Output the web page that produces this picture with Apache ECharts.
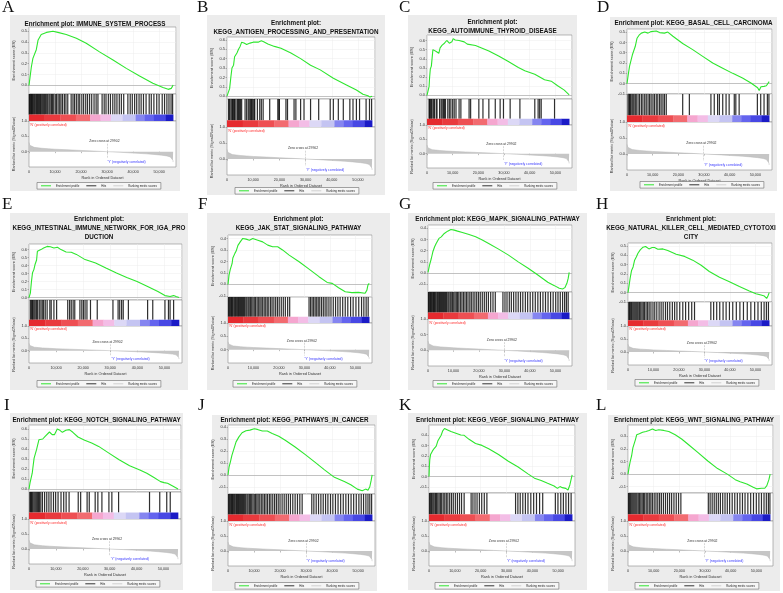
<!DOCTYPE html>
<html><head><meta charset="utf-8">
<script src="https://cdn.jsdelivr.net/npm/echarts@6/dist/echarts.min.js"></script>
<style>html,body{margin:0;padding:0;background:#fff}#c{width:783px;height:593px}</style>
</head><body><div id="c"></div><script>
// ---------------- DATA ----------------
const panelLetters = ['A','B','C','D','E','F','G','H','I','J','K','L'];
const panelTitles = [
  'Enrichment plot: IMMUNE_SYSTEM_PROCESS',
  'Enrichment plot:\nKEGG_ANTIGEN_PROCESSING_AND_PRESENTATION',
  'Enrichment plot:\nKEGG_AUTOIMMUNE_THYROID_DISEASE',
  'Enrichment plot: KEGG_BASAL_CELL_CARCINOMA',
  'Enrichment plot:\nKEGG_INTESTINAL_IMMUNE_NETWORK_FOR_IGA_PRO\nDUCTION',
  'Enrichment plot:\nKEGG_JAK_STAT_SIGNALING_PATHWAY',
  'Enrichment plot: KEGG_MAPK_SIGNALING_PATHWAY',
  'Enrichment plot:\nKEGG_NATURAL_KILLER_CELL_MEDIATED_CYTOTOXI\nCITY',
  'Enrichment plot: KEGG_NOTCH_SIGNALING_PATHWAY',
  'Enrichment plot: KEGG_PATHWAYS_IN_CANCER',
  'Enrichment plot: KEGG_VEGF_SIGNALING_PATHWAY',
  'Enrichment plot: KEGG_WNT_SIGNALING_PATHWAY'
];
// running enrichment score: [rank (thousands), ES]
const esA = [[0,0],[0.9,0.17],[1.5,0.25],[2.8,0.33],[3.5,0.42],[4.7,0.47],[6.7,0.49],[9.2,0.5],[11.1,0.49],[14.3,0.47],[18.2,0.435],[22,0.39],[27.1,0.31],[32.3,0.235],[37.4,0.157],[42.5,0.086],[47.6,0.019],[51.5,-0.019],[53.5,-0.037],[54.7,-0.028],[55.4,0.003]];
const esB = [[0,0],[0.6,0.01],[1.0,0.08],[1.5,0.21],[1.9,0.3],[2.5,0.33],[2.9,0.42],[3.8,0.46],[4.4,0.5],[5.0,0.53],[5.6,0.575],[6.5,0.565],[7.5,0.55],[8.8,0.565],[10,0.575],[10.6,0.59],[11.9,0.575],[13.1,0.59],[14,0.58],[15.6,0.555],[18.1,0.53],[20.6,0.51],[24.4,0.46],[28.1,0.4],[31.9,0.33],[35.6,0.28],[40.6,0.19],[45.6,0.12],[49.4,0.065],[51.9,0.02],[53.8,0.005],[54.6,-0.01],[55.0,0.005],[55.4,0.0]];
const esC = [[0,0],[0.5,0.01],[0.8,0.095],[1.0,0.19],[1.3,0.29],[1.7,0.32],[2.0,0.34],[2.3,0.5],[3.6,0.48],[4.6,0.46],[5.1,0.52],[5.9,0.55],[6.8,0.57],[7.7,0.6],[8.7,0.57],[9.7,0.585],[10.2,0.62],[11,0.605],[12.5,0.6],[14.5,0.585],[15.7,0.56],[16.4,0.58],[18.9,0.545],[21.5,0.515],[24.1,0.485],[27.9,0.43],[31.7,0.37],[35.6,0.305],[38.1,0.27],[42,0.23],[45.8,0.17],[48.4,0.155],[50.9,0.105],[53.5,0.057],[55.4,0.004]];
const esD = [[0,0],[0.5,0.09],[1.0,0.17],[1.7,0.18],[2.1,0.28],[2.7,0.27],[3.2,0.36],[3.9,0.44],[4.7,0.47],[5.6,0.49],[6.9,0.5],[8.2,0.49],[9.4,0.505],[11.4,0.51],[12.7,0.495],[14.6,0.49],[15.9,0.5],[17.9,0.46],[21.7,0.39],[25.6,0.33],[29.5,0.265],[33.4,0.2],[37.3,0.15],[41.2,0.1],[45,0.055],[48.3,0.006],[50.9,-0.04],[51.5,-0.065],[52.2,-0.03],[53.4,-0.026],[54.3,-0.02],[55,-0.01],[55.4,0.02]];
const esE = [[0,0],[0.5,0.055],[0.9,0.2],[1.3,0.31],[1.8,0.35],[2.2,0.41],[2.8,0.47],[3.1,0.58],[3.8,0.57],[4.4,0.6],[5.4,0.62],[6.7,0.64],[7.9,0.635],[9.2,0.62],[10.5,0.63],[11.8,0.6],[13.7,0.57],[15.6,0.567],[17.5,0.54],[20.7,0.475],[24.6,0.433],[28.4,0.37],[32.3,0.307],[36.1,0.252],[39.9,0.2],[43.8,0.139],[47.6,0.076],[50.2,0.025],[52.1,0.013],[53.4,0.025],[54.3,0.013],[55.4,0.0]];
const esF = [[0,0],[0.4,0.08],[0.9,0.13],[1.6,0.18],[1.9,0.23],[2.7,0.27],[3.2,0.29],[3.9,0.34],[4.8,0.37],[5.8,0.4],[7.1,0.394],[8.4,0.385],[9.7,0.4],[11.7,0.385],[13.6,0.37],[15.6,0.342],[17.5,0.328],[19.5,0.328],[21.4,0.3],[24,0.255],[27.9,0.197],[31.8,0.133],[35.7,0.067],[38.9,0.017],[40.9,0.009],[43.4,-0.029],[46,-0.064],[48.6,-0.072],[51.2,-0.07],[53.8,-0.078],[54.5,-0.05],[54.9,-0.006],[55.4,0.009]];
const esG = [[0,0.006],[0.6,0.07],[1.3,0.13],[1.9,0.19],[2.6,0.235],[3.2,0.265],[4.3,0.31],[5.2,0.324],[6.4,0.354],[7.7,0.375],[9,0.39],[10.3,0.384],[11.6,0.375],[13.5,0.363],[16.1,0.345],[18.7,0.324],[21.3,0.295],[23.8,0.265],[27.7,0.214],[31.6,0.16],[35.4,0.1],[39.3,0.042],[43.1,-0.018],[47,-0.083],[49.6,-0.113],[51.5,-0.137],[52.8,-0.143],[53.7,-0.131],[54.5,-0.092],[55,-0.048],[55.4,0.006]];
const esH = [[0,0],[0.4,0.073],[0.9,0.164],[1.4,0.237],[2,0.274],[2.6,0.347],[3.3,0.383],[3.9,0.42],[4.8,0.456],[5.9,0.485],[6.9,0.493],[8.2,0.467],[9.5,0.482],[10.4,0.482],[11.7,0.464],[13.7,0.467],[15.6,0.449],[18.9,0.409],[22.2,0.387],[25.4,0.347],[28.7,0.292],[31.9,0.226],[35.9,0.164],[39.8,0.117],[43.7,0.066],[47.6,0.018],[50.2,-0.011],[52.2,-0.026],[53.5,-0.036],[54.4,-0.062],[54.9,-0.036],[55.4,0]];
const esI = [[0,0],[0.4,0.064],[0.8,0.074],[1.2,0.158],[1.5,0.225],[1.9,0.309],[2.3,0.326],[2.8,0.393],[3.2,0.376],[3.7,0.493],[4.4,0.477],[5.1,0.5],[6,0.527],[6.7,0.527],[7.6,0.57],[8.6,0.544],[9.5,0.544],[10.5,0.6],[11.5,0.587],[12.4,0.567],[13.7,0.587],[15,0.594],[16.3,0.567],[18.2,0.52],[20.7,0.487],[23.3,0.46],[25.9,0.426],[29.7,0.359],[33.5,0.292],[37.4,0.232],[41.2,0.191],[43.8,0.158],[46.3,0.117],[48.9,0.074],[50.2,0.064],[51.5,0.057],[53.4,0.03],[55.4,0]];
const esJ = [[0,0],[0.4,0.065],[0.9,0.108],[1.5,0.165],[2.3,0.221],[3.1,0.278],[4.2,0.32],[5.4,0.355],[6.9,0.372],[8.4,0.377],[10.1,0.389],[11.3,0.383],[13.2,0.369],[15.1,0.369],[17,0.349],[19.5,0.326],[22,0.292],[25.8,0.235],[29.6,0.173],[33.4,0.108],[37.1,0.043],[40.9,-0.02],[44.7,-0.054],[47.2,-0.082],[49.7,-0.119],[51.6,-0.133],[52.9,-0.119],[53.8,-0.128],[54.5,-0.099],[55,-0.048],[55.4,0]];
const esK = [[0,0],[0.15,0.1],[0.3,0.164],[0.6,0.213],[1.3,0.246],[1.9,0.269],[2.8,0.295],[3.4,0.344],[4.1,0.361],[4.7,0.4],[5.3,0.443],[6,0.466],[7.2,0.452],[8.5,0.436],[10.4,0.42],[12.3,0.403],[13.6,0.4],[15.5,0.361],[18,0.321],[20.5,0.302],[23.1,0.269],[26.9,0.213],[30.7,0.148],[34.5,0.092],[38.3,0.026],[40.8,-0.016],[43.4,-0.039],[45.9,-0.066],[48.4,-0.092],[49.7,-0.115],[50.7,-0.098],[51.6,-0.108],[52.9,-0.115],[53.8,-0.131],[54.5,-0.082],[55.4,0.016]];
const esL = [[0,0],[0.4,0.052],[0.9,0.104],[1.4,0.144],[1.9,0.209],[2.5,0.222],[2.9,0.274],[3.4,0.313],[4.4,0.321],[5.7,0.332],[7,0.339],[8.2,0.347],[9.5,0.358],[10.8,0.347],[12,0.352],[13.9,0.347],[15.9,0.339],[18.4,0.313],[20.9,0.279],[23.5,0.235],[27.3,0.17],[31.1,0.104],[34.9,0.044],[38.7,0],[41.8,-0.044],[43.7,-0.06],[46.3,-0.078],[48.8,-0.104],[50.1,-0.117],[52,-0.112],[53.3,-0.112],[54.1,-0.091],[54.9,-0.044],[55.4,0]];
// gene-set hit positions (rank, thousands)
const hitsA = [0.1,0.3,0.5,0.8,1.0,1.3,1.6,1.9,2.2,2.6,2.9,3.3,3.6,4.0,4.4,4.7,5.1,5.5,5.9,6.3,6.8,7.2,7.7,8.1,8.6,9.0,9.5,10.1,10.6,11.2,11.8,12.3,12.9,13.6,14.2,14.9,16.2,16.9,17.5,18.2,18.9,19.5,20.3,21.0,21.8,22.5,23.3,24.1,25.0,25.8,26.5,28.1,28.9,29.6,30.5,31.3,32.2,33.0,33.8,34.7,35.5,36.4,38.0,38.9,39.7,40.6,41.4,42.3,43.1,44.0,45.0,46.2,47.0,48.0,49.1,50.0,51.2,52.1,53.0,53.8,54.6,55.2];
const hitsB = [0.6,1.0,1.5,1.9,2.1,2.5,2.9,3.1,3.8,4.1,4.4,4.8,5.2,5.6,6.9,7.5,8.1,8.5,9.0,9.4,9.6,10.0,10.4,10.6,11.6,12.5,13.1,13.8,16.3,19.4,19.8,20.0,22.5,23.1,25.6,26.3,28.1,29.4,31.9,35.0,39.4,40.6,42.5,44.4,46.9,48.1,49.4,50.6,53.1,54.4,55.2];
const hitsC = [0.8,1.0,1.3,1.7,2.0,2.6,2.9,3.6,3.9,4.9,5.5,5.9,6.4,6.8,7.2,8.1,8.7,9.3,10.0,10.6,11.3,12.5,13.2,16.4,17.0,20.2,21.8,24.1,26.6,28.5,29.8,32.4,36.2,42.0,43.3,43.9,44.5,49.7];
const hitsD = [0.4,0.8,1.0,1.4,1.9,2.3,2.7,3.2,3.6,4.3,4.9,5.6,6.2,6.9,7.5,8.2,8.8,9.4,10.1,10.7,11.4,12.0,12.7,13.3,14.0,14.6,15.3,21.7,24.3,32.7,34.0,35.3,36.0,37.3,38.6,39.8,41.8,42.4,43.7,50.8,52.1,53.4,54.7,55.3];
const hitsE = [0.5,0.9,1.3,1.5,1.9,2.3,2.8,3.2,3.8,4.4,4.9,5.4,6.0,6.7,7.7,8.2,9.2,10.2,14.3,15.0,15.6,16.3,16.9,18.8,19.5,20.1,20.7,21.4,22.7,25.2,31.0,32.9,33.5,34.2,34.8,36.7,43.8,45.7,50.2,51.5,52.1,53.4];
const hitsF = [0.2,0.5,0.8,1.1,1.4,1.7,2.0,2.4,2.7,3.0,3.4,3.8,4.1,4.5,4.9,5.3,5.7,6.1,6.5,7.0,7.4,7.9,8.3,8.8,9.3,9.8,10.3,10.8,11.4,11.9,12.5,13.0,13.6,14.2,14.8,15.4,16.0,16.7,17.3,18.0,18.7,19.4,20.1,20.9,21.7,22.5,23.4,24.2,31.8,32.4,33.0,33.6,34.2,34.8,35.4,36.0,36.7,37.4,38.1,38.8,39.6,40.4,41.3,42.2,43.1,44.0,45.0,46.0,47.0,48.1,49.1,50.2,51.3,52.4,53.3,54.2,55.0];
const hitsG = [0.2,0.4,0.7,1.0,1.3,1.6,1.9,2.2,2.5,2.8,3.1,3.5,3.8,4.2,4.5,4.9,5.3,5.7,6.1,6.5,6.9,7.3,7.8,8.2,8.7,9.1,9.6,10.1,10.6,11.1,11.6,12.1,12.7,13.3,13.9,14.5,15.1,15.7,16.4,17.0,17.7,18.4,19.1,19.8,20.5,21.3,22.1,22.9,23.7,24.6,25.5,26.4,29.4,30.2,31.0,31.9,32.7,33.6,34.5,35.4,36.3,37.2,38.2,39.1,40.1,41.1,42.1,43.1,44.1,45.1,46.1,47.1,48.1,49.1,50.1,51.0,51.9,52.8,53.6,54.3,55.0];
const hitsH = [0.3,0.6,0.9,1.3,1.6,2.0,2.4,2.8,3.2,3.6,4.0,4.5,5.0,5.5,6.0,6.5,7.1,7.7,8.3,9.0,9.8,10.5,11.3,12.2,13.0,13.8,14.7,15.5,16.4,17.4,18.3,19.2,20.3,21.5,22.6,23.8,25.0,26.1,32.5,33.6,34.8,36.0,37.3,38.5,39.8,41.1,42.5,43.9,45.3,46.8,48.2,49.7,51.0,52.3,53.4,54.3,55.1];
const hitsI = [0.3,0.6,0.9,1.2,1.5,1.9,2.3,2.7,3.1,3.5,3.9,4.4,5.0,5.8,6.6,7.4,8.2,9.1,9.9,10.8,11.9,12.9,13.8,14.9,18.3,19.2,21.6,22.4,24.6,25.6,27.1,29.7,30.8,33.3,44.8,48.6,51.2,52.5];
const hitsJ = [0.2,0.5,0.8,1.1,1.4,1.7,2.0,2.3,2.6,3.0,3.3,3.7,4.0,4.4,4.8,5.2,5.6,6.0,6.4,6.8,7.3,7.7,8.2,8.6,9.1,9.6,10.1,10.6,11.1,11.6,12.2,12.8,13.4,14.0,14.6,15.2,15.9,16.5,17.2,17.9,18.6,19.3,20.0,20.8,21.6,22.4,23.2,24.0,24.9,25.8,26.7,27.6,28.5,32.2,33.0,33.9,34.8,35.7,36.6,37.5,38.4,39.4,40.3,41.3,42.3,43.3,44.3,45.3,46.3,47.3,48.3,49.3,50.3,51.2,52.1,53.0,53.8,54.5,55.2];
const hitsK = [0.2,0.5,0.9,1.2,1.6,2.0,2.5,2.9,3.4,3.9,4.4,4.9,5.5,6.1,6.7,7.3,8.0,8.7,9.4,10.2,11.0,11.8,12.6,13.6,16.3,17.0,17.8,18.6,19.5,20.4,21.4,22.4,33.5,34.4,35.3,36.3,37.3,38.3,39.4,40.5,41.6,42.8,44.0,48.9,49.9,51.0,52.0,53.0,54.0,55.0];
const hitsL = [0.2,0.5,0.8,1.1,1.5,1.9,2.3,2.7,3.1,3.5,4.0,4.5,5.0,5.5,6.0,6.5,7.1,7.7,8.3,8.9,9.5,10.2,10.9,11.6,12.3,13.0,13.8,14.6,15.4,16.2,17.0,17.9,18.8,19.7,20.6,31.3,32.0,32.8,33.6,34.4,35.2,36.0,36.9,37.8,38.7,39.6,40.6,41.6,42.6,43.6,44.6,45.6,46.7,47.8,48.9,50.0,51.0,52.0,53.0,53.9,54.7,55.3];
// ES axis tick labels
const esTicksA = [0.0,0.1,0.2,0.3,0.4,0.5];
const esTicksB = [0.0,0.1,0.2,0.3,0.4,0.5,0.6];
const esTicksC = [0.0,0.1,0.2,0.3,0.4,0.5,0.6];
const esTicksD = [-0.1,0.0,0.1,0.2,0.3,0.4,0.5];
const esTicksE = [0.0,0.1,0.2,0.3,0.4,0.5,0.6];
const esTicksF = [-0.1,0.0,0.1,0.2,0.3,0.4];
const esTicksG = [-0.1,0.0,0.1,0.2,0.3,0.4];
const esTicksH = [-0.1,0.0,0.1,0.2,0.3,0.4,0.5];
const esTicksI = [0.0,0.1,0.2,0.3,0.4,0.5,0.6];
const esTicksJ = [-0.1,0.0,0.1,0.2,0.3,0.4];
const esTicksK = [-0.1,0.0,0.1,0.2,0.3,0.4];
const esTicksL = [-0.1,0.0,0.1,0.2,0.3];
// shared ranked list metric (rank thousands, Signal2Noise)
const rankMetric = [[0,0.3],[0.1,0.25],[0.3,0.21],[0.6,0.18],[1,0.16],[2,0.14],[3.5,0.125],[5,0.11],[7.5,0.095],[10,0.08],[15,0.06],[20,0.04],[25,0.02],[29.9,0],[35,-0.02],[40,-0.045],[45,-0.07],[48,-0.09],[51,-0.115],[53,-0.14],[54.3,-0.17],[55,-0.21],[55.3,-0.28],[55.4,-0.34]];
const rankTicks = [0,10,20,30,40,50];
const metricTicks = [0.0,0.5,1.0];
const gradientSegments = [[0,6],[6,12],[12,18],[18,23.5],[23.5,27.5],[27.5,31.5],[31.5,36],[36,41],[41,44.5],[44.5,48],[48,52.5],[52.5,55.4]];
const zeroCross = 29.902;
const zeroCrossLabel = 'Zero cross at 29902';
const posLabel = "'N' (positively correlated)";
const negLabel = "'Y' (negatively correlated)";
const legendNames = ['Enrichment profile','Hits','Ranking metric scores'];

const esData = [esA,esB,esC,esD,esE,esF,esG,esH,esI,esJ,esK,esL];
const hitsData = [hitsA,hitsB,hitsC,hitsD,hitsE,hitsF,hitsG,hitsH,hitsI,hitsJ,hitsK,hitsL];
const esTicks = [esTicksA,esTicksB,esTicksC,esTicksD,esTicksE,esTicksF,esTicksG,esTicksH,esTicksI,esTicksJ,esTicksK,esTicksL];

// ---------------- LAYOUT / STYLE ----------------
const FONT = "'Liberation Sans', Arial, sans-serif";
const XMAX = 56.5;
const GRAD = 0.24;
const gradColors = ['#e52a2f','#e93a3e','#ee4f53','#f26b70','#f5a6cf','#f3bde6','#dcd8f6','#c4c4f2','#8585f0','#6464ee','#4848e4','#1b1bc6'];
const layout = [
 {box:[10,15,180,191], letter:[2,-1], titleTop:19.5, plot:[29,176,27,94,121,167], es:[-0.08,0.54], legend:[37,182.5]},
 {box:[207,15,385,195], letter:[197,-1], titleTop:18.5, plot:[227,375,37,99,127,175], es:[-0.03,0.63], legend:[235,187.5]},
 {box:[408,15,577,191], letter:[399,-1], titleTop:17.5, plot:[427,572,35,99,125,168], es:[-0.04,0.66], legend:[433,182.5]},
 {box:[610,17,777,191], letter:[597,-1], titleTop:18.5, plot:[627,772,29,94,122,170], es:[-0.1,0.53], legend:[640,181.5]},
 {box:[10,213,188,390], letter:[2,196], titleTop:214.5, plot:[29,182,244,300,326,363], es:[-0.03,0.67], legend:[37,380.5]},
 {box:[207,213,390,390], letter:[198,196], titleTop:214.5, plot:[228,372,235,297,323,363], es:[-0.11,0.43], legend:[233,380.5]},
 {box:[408,213,587,390], letter:[399,196], titleTop:215, plot:[428,572,225,292,319,366], es:[-0.17,0.43], legend:[433,380.5]},
 {box:[607,213,775,390], letter:[596,196], titleTop:214.5, plot:[628,772,243,302,326,365], es:[-0.1,0.53], legend:[635,379.5]},
 {box:[10,413,183,590], letter:[4,397], titleTop:415.5, plot:[29,181,425,492,519,564], es:[-0.03,0.64], legend:[36,580.5]},
 {box:[212,415,377,591], letter:[198,397], titleTop:416, plot:[228,375,425,494,521,566], es:[-0.16,0.42], legend:[235,582.5]},
 {box:[408,413,587,590], letter:[399,397], titleTop:416, plot:[429,575,425,493,521,566], es:[-0.16,0.5], legend:[435,582.5]},
 {box:[608,415,780,591], letter:[596,397], titleTop:416, plot:[628,773,425,493,521,566], es:[-0.15,0.39], legend:[635,582.5]}
];

const grid = [], xAxis = [], yAxis = [], series = [], title = [], legend = [], graphic = [];
const tinyLabel = {fontSize:4, color:'#333', fontFamily:FONT};
const fmtRank = v => Math.round(v*1000).toLocaleString('en-US');

layout.forEach((L, p) => {
  const [pl, pr, pt, esB, gB, pb] = L.plot;
  const w = pr - pl;
  const g0 = 3*p;
  graphic.push({type:'rect', z:-10, shape:{x:L.box[0], y:L.box[1], width:L.box[2]-L.box[0], height:L.box[3]-L.box[1]}, style:{fill:'#ececec'}});
  graphic.push({type:'text', z:10, x:L.letter[0], y:L.letter[1], style:{text:panelLetters[p], font:"17px 'Liberation Serif', 'Times New Roman', serif", fill:'#111', verticalAlign:'top'}});
  title.push({text:panelTitles[p], left:(L.box[0]+L.box[2])/2, top:L.titleTop, textAlign:'center', padding:0,
    textStyle:{fontSize:6.3, fontWeight:'bold', lineHeight:9.3, color:'#111', fontFamily:FONT}});
  const frame = {show:true, backgroundColor:'#fff', borderColor:'#8c8c8c', borderWidth:0.6};
  grid.push(Object.assign({left:pl, top:pt, width:w, height:esB-pt}, frame));
  grid.push(Object.assign({left:pl, top:esB, width:w, height:gB-esB}, frame));
  grid.push(Object.assign({left:pl, top:gB, width:w, height:pb-gB}, frame));
  // x axes
  xAxis.push({type:'value', gridIndex:g0, min:0, max:XMAX, interval:10, axisLine:{show:false}, axisTick:{show:false}, axisLabel:{show:false},
    splitLine:{show:true, lineStyle:{color:'#ededed', width:0.5}}});
  xAxis.push({type:'value', gridIndex:g0+1, min:0, max:XMAX, show:false});
  xAxis.push({type:'value', gridIndex:g0+2, min:0, max:XMAX, interval:10, axisLine:{show:false},
    axisTick:{show:true, length:1.5, lineStyle:{color:'#777', width:0.5}, customValues:rankTicks},
    axisLabel:Object.assign({customValues:rankTicks, formatter:fmtRank, margin:2.5}, tinyLabel, {fontSize:3.7}),
    splitLine:{show:false},
    name:'Rank in Ordered Dataset', nameLocation:'middle', nameGap:9, nameTextStyle:Object.assign({}, tinyLabel, {fontSize:3.8})});
  // y axes
  yAxis.push({type:'value', gridIndex:g0, min:L.es[0], max:L.es[1], axisLine:{show:false},
    axisTick:{show:true, length:1.5, lineStyle:{color:'#777', width:0.5}, customValues:esTicks[p]},
    axisLabel:Object.assign({customValues:esTicks[p], formatter:v=>v.toFixed(1), margin:2}, tinyLabel),
    splitLine:{show:true, lineStyle:{color:'#ededed', width:0.5}},
    name:'Enrichment score (ES)', nameLocation:'middle', nameGap:13, nameTextStyle:Object.assign({}, tinyLabel, {fontSize:4})});
  yAxis.push({type:'value', gridIndex:g0+1, min:0, max:1, show:false});
  yAxis.push({type:'value', gridIndex:g0+2, min:-0.5, max:1.0, interval:0.5, axisLine:{show:false},
    axisTick:{show:true, length:1.5, lineStyle:{color:'#777', width:0.5}, customValues:metricTicks},
    axisLabel:Object.assign({customValues:metricTicks, formatter:v=>v.toFixed(1), margin:2}, tinyLabel),
    splitLine:{show:false},
    name:'Ranked list metric (Signal2Noise)', nameLocation:'middle', nameGap:13, nameTextStyle:Object.assign({}, tinyLabel, {fontSize:3.7})});
  // series
  series.push({type:'line', name:'Enrichment profile', xAxisIndex:g0, yAxisIndex:g0, data:esData[p], showSymbol:false, symbol:'none',
    color:'#2ee62e', lineStyle:{color:'#2ee62e', width:1.1}, z:5,
    markLine:{silent:true, symbol:'none', label:{show:false}, lineStyle:{color:'#a0a0a0', width:0.6, type:'solid'}, data:[{yAxis:0}]}});
  series.push({type:'custom', name:'Hits', xAxisIndex:g0+1, yAxisIndex:g0+1, data:hitsData[p].map(v=>[v]), encode:{x:0}, color:'#222',
    renderItem:(params, api) => {
      const a = api.coord([api.value(0), 1]);
      const b = api.coord([api.value(0), GRAD]);
      return {type:'line', shape:{x1:a[0], y1:a[1], x2:b[0], y2:b[1]}, style:{stroke:'#0a0a0a', lineWidth:1.2, opacity:0.85}};
    }});
  series.push({type:'custom', name:'gradient', xAxisIndex:g0+1, yAxisIndex:g0+1, data:gradientSegments, encode:{x:[0,1]},
    renderItem:(params, api) => {
      const s = api.coord([api.value(0), 0]);
      const e = api.coord([api.value(1), GRAD]);
      return {type:'rect', shape:{x:s[0], y:e[1], width:e[0]-s[0]+0.3, height:s[1]-e[1]}, style:{fill:gradColors[params.dataIndex]}};
    }});
  series.push({type:'line', name:'Ranking metric scores', xAxisIndex:g0+2, yAxisIndex:g0+2, data:rankMetric, showSymbol:false, symbol:'none',
    color:'#c8c8c8', lineStyle:{color:'#b8b8b8', width:0.5}, areaStyle:{color:'#c6c6c6', opacity:1},
    markLine:{silent:true, symbol:'none', label:{show:false}, lineStyle:{color:'#b0b0b0', width:0.5, type:'dashed'},
      data:[[{coord:[zeroCross, 0.26]}, {coord:[zeroCross, -0.22]}]]},
    markPoint:{silent:true, symbol:'circle', symbolSize:0.1, itemStyle:{color:'rgba(0,0,0,0)'},
      label:{show:true, formatter:'{b}', fontSize:3.4, fontFamily:FONT, distance:0},
      data:[
        {name:posLabel, coord:[0.3, 0.88], label:{position:'right', color:'#ff2a2a'}},
        {name:zeroCrossLabel, coord:[29, 0.33], label:{position:'inside', color:'#333'}},
        {name:negLabel, coord:[37.5, -0.35], label:{position:'inside', color:'#3535ff'}}
      ]}});
  legend.push({left:L.legend[0], top:L.legend[1], width:170, orient:'horizontal', icon:'rect', itemWidth:10, itemHeight:1, itemGap:7,
    padding:[1.8,4], borderColor:'#6a6a6a', borderWidth:0.6, backgroundColor:'#f6f6f6', selectedMode:false,
    textStyle:{fontSize:2.9, color:'#222', fontFamily:FONT},
    data:[{name:legendNames[0], itemStyle:{color:'#2ee62e'}}, {name:legendNames[1], itemStyle:{color:'#333'}}, {name:legendNames[2], itemStyle:{color:'#d0d0d0'}}]});
});

const chart = echarts.init(document.getElementById('c'), null, {renderer:'canvas'});
chart.setOption({animation:false, backgroundColor:'#ffffff', title, legend, grid, xAxis, yAxis, series, graphic:{elements:graphic}});
</script></body></html>
